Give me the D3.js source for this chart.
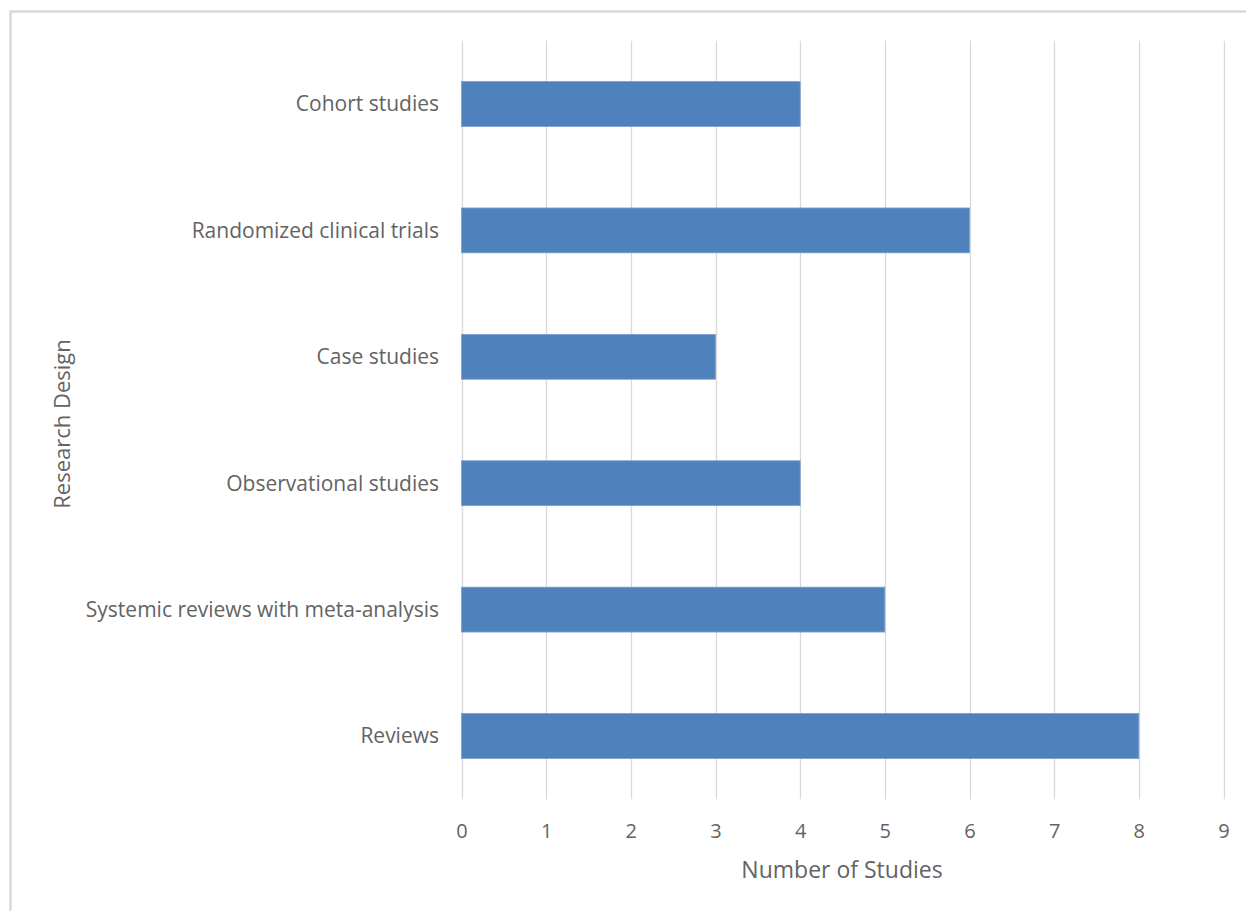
<!DOCTYPE html>
<html><head><meta charset="utf-8">
<script src="https://cdn.jsdelivr.net/npm/d3@7"></script>
<style>body{margin:0;background:#fff;}svg{display:block;}</style>
</head><body>
<script>
const categories = ["Cohort studies","Randomized clinical trials","Case studies","Observational studies","Systemic reviews with meta-analysis","Reviews"];
const values = [4,6,3,4,5,8];
const xTicks = [0,1,2,3,4,5,6,7,8,9];
const xTitle = "Number of Studies";
const yTitle = "Research Design";

const W = 1246, H = 911;
const svg = d3.select("body").append("svg").attr("width",W).attr("height",H);
svg.append("rect").attr("width",W).attr("height",H).attr("fill","#fff");
svg.append("rect").attr("x",10.5).attr("y",11.5).attr("width",W).attr("height",H)
  .attr("fill","none").attr("stroke","#d9d9d9").attr("stroke-width",2.5);

const m = {left:461.5, right:1223.5, top:40.8, bottom:799.2};
const x = d3.scaleLinear().domain([0,9]).range([m.left,m.right]);
const y = d3.scaleBand().domain(categories).range([m.top,m.bottom]).paddingInner(0.645).paddingOuter(0.3225);
const font = "'Open Sans', 'Liberation Sans', sans-serif";
const txt = "#636363";

// gridlines
svg.append("g").selectAll("line").data(xTicks).join("line")
  .attr("x1",d=>Math.round(x(d))+0.5).attr("x2",d=>Math.round(x(d))+0.5)
  .attr("y1",m.top).attr("y2",m.bottom)
  .attr("stroke","#d9d9d9").attr("stroke-width",1.3);

// bars
svg.append("g").selectAll("rect").data(categories).join("rect")
  .attr("x",x(0)).attr("y",d=>y(d))
  .attr("width",(d,i)=>x(values[i])-x(0)).attr("height",y.bandwidth())
  .attr("fill","#4f81bd").attr("stroke","#7a9fcf").attr("stroke-width",0.8);

// x axis labels
const xAxis = d3.axisBottom(x).tickValues(xTicks).tickSize(0).tickPadding(0);
const gx = svg.append("g").attr("transform",`translate(0,${838})`).call(xAxis);
gx.select(".domain").remove();
gx.selectAll("text").attr("dy",0).attr("y",0).attr("font-family",font).attr("font-size",20).attr("fill",txt);

// y axis labels
const yAxis = d3.axisLeft(y).tickSize(0).tickPadding(0);
const gy = svg.append("g").attr("transform",`translate(${439},0)`).call(yAxis);
gy.select(".domain").remove();
gy.selectAll("text").attr("dy","0.35em").attr("font-family",font).attr("font-size",21).attr("fill",txt);

svg.append("text").attr("x",842).attr("y",878).attr("text-anchor","middle")
  .attr("font-family",font).attr("font-size",23).attr("fill",txt).text(xTitle);
svg.append("text").attr("transform","translate(70,424) rotate(-90)").attr("text-anchor","middle")
  .attr("font-family",font).attr("font-size",22).attr("fill",txt).text(yTitle);
</script>
</body></html>
